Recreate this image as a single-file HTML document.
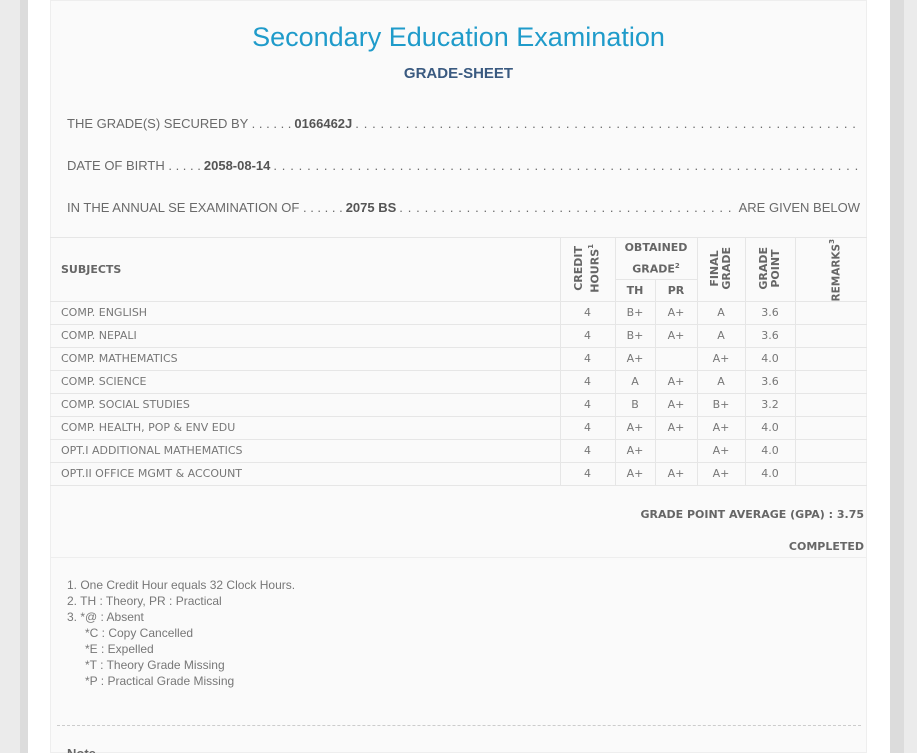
<!DOCTYPE html>
<html><head><style>
*{margin:0;padding:0;box-sizing:border-box}
html,body{width:917px;height:753px;overflow:hidden}
body{background:#ebebeb;position:relative;font-family:"Liberation Sans",sans-serif;color:#666}
.a{position:absolute}
.line{position:absolute;left:67px;width:793px;font-size:13px;white-space:nowrap;overflow:hidden;display:flex;color:#6a6a6a}
.line b{color:#555;padding:0 3px}
.dots{flex:1;overflow:hidden;letter-spacing:0.6px}
table{position:absolute;left:50px;top:237px;width:817px;border-collapse:collapse;font-family:"DejaVu Sans",sans-serif;font-size:11px;color:#777;table-layout:fixed}
td,th{border:1px solid #e6e6e6;text-align:center;height:23px;padding:0;line-height:12px}
td:first-child{text-align:left;padding-left:11px;border-left:none}
th{font-weight:bold;color:#666}
.v{writing-mode:vertical-rl;transform:rotate(180deg);display:inline-block;line-height:12px;font-size:11px}
.fn{position:absolute;left:67px;top:577px;font-size:12px;line-height:16px;color:#777}
</style></head><body>
<div class="a" style="left:20px;top:0;width:8px;height:753px;background:#dcdcdc"></div>
<div class="a" style="left:28px;top:0;width:862px;height:753px;background:#fff"></div>
<div class="a" style="left:890px;top:0;width:14px;height:753px;background:#dcdcdc"></div>
<div class="a" style="left:50px;top:0;width:817px;height:753px;background:#fafafa;border:1px solid #eee;border-top:none"></div>
<div class="a" style="left:50px;top:0;width:817px;height:1px;background:#eee"></div>
<div class="a" style="left:50px;top:22px;width:817px;text-align:center;font-size:27px;color:#1f9bca">Secondary Education Examination</div>
<div class="a" style="left:50px;top:65px;width:817px;text-align:center;font-size:15px;color:#3a5a80;font-weight:bold">GRADE-SHEET</div>
<div class="line" style="top:116px"><span>THE GRADE(S) SECURED BY . . . . . .</span><b>0166462J</b><span class="dots">. . . . . . . . . . . . . . . . . . . . . . . . . . . . . . . . . . . . . . . . . . . . . . . . . . . . . . . . . . . . . . . . . . . . . . . . . . . . . . . . . . . . . . . . . . . . . . . . . . . . . . .</span></div>
<div class="line" style="top:158px"><span>DATE OF BIRTH . . . . .</span><b>2058-08-14</b><span class="dots">. . . . . . . . . . . . . . . . . . . . . . . . . . . . . . . . . . . . . . . . . . . . . . . . . . . . . . . . . . . . . . . . . . . . . . . . . . . . . . . . . . . . . . . . . . . . . . . . . . . . . . . . . . . . .</span></div>
<div class="line" style="top:200px"><span>IN THE ANNUAL SE EXAMINATION OF . . . . . .</span><b>2075 BS</b><span class="dots">. . . . . . . . . . . . . . . . . . . . . . . . . . . . . . . . . . . . . . . . . . . . . . . . . . . . . . . . . . . . . . . . . . . . . . . . . . . . .</span><span>&nbsp;ARE GIVEN BELOW</span></div>
<table>
<colgroup><col style="width:510px"><col style="width:55px"><col style="width:40px"><col style="width:42px"><col style="width:48px"><col style="width:50px"><col></colgroup>
<tr><th rowspan="2" style="text-align:left;padding-left:11px;border-left:none">SUBJECTS</th><th rowspan="2"><span class="v">CREDIT<br>HOURS<sup style="font-size:7px">1</sup></span></th><th colspan="2" style="line-height:19px;height:42px">OBTAINED<br>GRADE<sup style="font-size:7px">2</sup></th><th rowspan="2"><span class="v">FINAL<br>GRADE</span></th><th rowspan="2"><span class="v">GRADE<br>POINT</span></th><th rowspan="2" style="border-right:none;position:relative"><span class="v" style="position:absolute;left:31px;top:1px;font-size:10.5px;line-height:11px">REMARKS<sup style="font-size:7px">3</sup></span></th></tr>
<tr><th style="height:22px">TH</th><th style="height:22px">PR</th></tr>
<tr><td>COMP. ENGLISH</td><td>4</td><td>B+</td><td>A+</td><td>A</td><td>3.6</td><td style="border-right:none"></td></tr>
<tr><td>COMP. NEPALI</td><td>4</td><td>B+</td><td>A+</td><td>A</td><td>3.6</td><td style="border-right:none"></td></tr>
<tr><td>COMP. MATHEMATICS</td><td>4</td><td>A+</td><td></td><td>A+</td><td>4.0</td><td style="border-right:none"></td></tr>
<tr><td>COMP. SCIENCE</td><td>4</td><td>A</td><td>A+</td><td>A</td><td>3.6</td><td style="border-right:none"></td></tr>
<tr><td>COMP. SOCIAL STUDIES</td><td>4</td><td>B</td><td>A+</td><td>B+</td><td>3.2</td><td style="border-right:none"></td></tr>
<tr><td>COMP. HEALTH, POP &amp; ENV EDU</td><td>4</td><td>A+</td><td>A+</td><td>A+</td><td>4.0</td><td style="border-right:none"></td></tr>
<tr><td>OPT.I ADDITIONAL MATHEMATICS</td><td>4</td><td>A+</td><td></td><td>A+</td><td>4.0</td><td style="border-right:none"></td></tr>
<tr><td>OPT.II OFFICE MGMT &amp; ACCOUNT</td><td>4</td><td>A+</td><td>A+</td><td>A+</td><td>4.0</td><td style="border-right:none"></td></tr>
</table>
<div class="a" style="right:53px;top:508px;font-family:'DejaVu Sans',sans-serif;font-size:11px;font-weight:bold;color:#666">GRADE POINT AVERAGE (GPA) : 3.75</div>
<div class="a" style="right:53px;top:540px;font-family:'DejaVu Sans',sans-serif;font-size:11px;font-weight:bold;color:#666">COMPLETED</div>
<div class="a" style="left:50px;top:557px;width:817px;height:1px;background:#eee"></div>
<div class="fn">1. One Credit Hour equals 32 Clock Hours.<br>2. TH : Theory, PR : Practical<br>3. *@ : Absent<br><span style="padding-left:18px">*C : Copy Cancelled</span><br><span style="padding-left:18px">*E : Expelled</span><br><span style="padding-left:18px">*T : Theory Grade Missing</span><br><span style="padding-left:18px">*P : Practical Grade Missing</span></div>
<div class="a" style="left:57px;top:725px;width:804px;border-top:1px dashed #ccc"></div>
<div class="a" style="left:67px;top:746px;font-size:13px;font-weight:bold;color:#666">Note</div>
</body></html>
